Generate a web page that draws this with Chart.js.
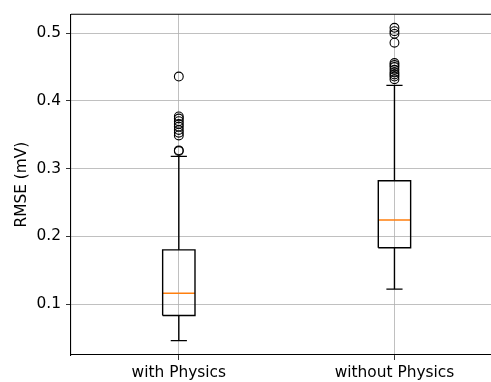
<!DOCTYPE html>
<html lang="en">
<head>
  <meta charset="UTF-8">
  <title>RMSE boxplot</title>
  <style>
    body { margin: 0; background: #fff; overflow: hidden; }
    #wrap { width: 491px; height: 382px; overflow: hidden; }
  </style>
</head>
<body>
  <div id="wrap"><canvas id="rmse" width="497" height="382"></canvas></div>

  <script src="https://cdn.jsdelivr.net/npm/chart.js"></script>
  <script>
    // box statistics
    const categories = ['with Physics', 'without Physics'];
    const q1 = [0.083, 0.183];
    const median = [0.116, 0.224];
    const q3 = [0.180, 0.282];
    const whiskerLow = [0.046, 0.122];
    const whiskerHigh = [0.318, 0.423];
    const outliersWith = [0.436, 0.377, 0.374, 0.370, 0.366, 0.362, 0.357, 0.353, 0.349, 0.327, 0.326];
    const outliersWithout = [0.508, 0.503, 0.499, 0.486, 0.456, 0.453, 0.450, 0.446, 0.442, 0.439, 0.436, 0.432];
    const yTicks = [0.1, 0.2, 0.3, 0.4, 0.5];

    const boxHalf = 0.075; // matplotlib default width 0.15
    const capHalf = 0.0375;

    const boxPts = [], medPts = [], whiskPts = [];
    categories.forEach((c, i) => {
      const x = i + 1;
      boxPts.push({x: x - boxHalf, y: q1[i]}, {x: x + boxHalf, y: q1[i]},
                  {x: x + boxHalf, y: q3[i]}, {x: x - boxHalf, y: q3[i]},
                  {x: x - boxHalf, y: q1[i]}, {x: x, y: null});
      medPts.push({x: x - boxHalf, y: median[i]}, {x: x + boxHalf, y: median[i]}, {x: x, y: null});
      whiskPts.push({x: x, y: q3[i]}, {x: x, y: whiskerHigh[i]}, {x: x, y: null},
                    {x: x - capHalf, y: whiskerHigh[i]}, {x: x + capHalf, y: whiskerHigh[i]}, {x: x, y: null},
                    {x: x, y: q1[i]}, {x: x, y: whiskerLow[i]}, {x: x, y: null},
                    {x: x - capHalf, y: whiskerLow[i]}, {x: x + capHalf, y: whiskerLow[i]}, {x: x, y: null});
    });
    const fliers = outliersWith.map(v => ({x: 1, y: v}))
      .concat(outliersWithout.map(v => ({x: 2, y: v})));

    const lineDs = (data, color) => ({
      type: 'line', data: data, borderColor: color, borderWidth: 1.4,
      pointRadius: 0, spanGaps: false, fill: false, tension: 0
    });

    const topSpine = {
      id: 'topSpine',
      afterDraw(chart) {
        const a = chart.chartArea, c = chart.ctx;
        c.save();
        c.strokeStyle = '#000';
        c.lineWidth = 1.1;
        c.beginPath();
        c.moveTo(a.left, a.top);
        c.lineTo(a.right, a.top);
        c.stroke();
        c.restore();
      }
    };

    const font = {family: 'DejaVu Sans', size: 15.4};

    new Chart(document.getElementById('rmse'), {
      type: 'scatter',
      data: {
        datasets: [
          lineDs(boxPts, '#000'),
          lineDs(whiskPts, '#000'),
          lineDs(medPts, '#ff7f0e'),
          {
            type: 'scatter', data: fliers, pointStyle: 'circle', pointRadius: 4.4,
            borderColor: '#000', borderWidth: 1.1, backgroundColor: 'rgba(0,0,0,0)'
          }
        ]
      },
      options: {
        responsive: false,
        animation: false,
        layout: {padding: {top: 14, right: 0, left: 0, bottom: 0}},
        plugins: {legend: {display: false}, tooltip: {enabled: false}},
        scales: {
          x: {
            type: 'linear', min: 0.5, max: 2.45,
            afterBuildTicks: s => { s.ticks = categories.map((c, i) => ({value: i + 1})); },
            afterFit: s => { s.height = 27; },
            ticks: {
              font: font, color: '#000', padding: 4, maxRotation: 0,
              callback: v => categories[v - 1]
            },
            grid: {color: '#b0b0b0', lineWidth: 0.8, tickLength: 5, tickColor: '#000'},
            border: {color: '#000', width: 1.1}
          },
          y: {
            min: 0.0247, max: 0.528,
            afterBuildTicks: s => { s.ticks = yTicks.map(v => ({value: v})); },
            afterFit: s => { s.width = 71; },
            ticks: {font: font, color: '#000', padding: 5, callback: v => v.toFixed(1)},
            title: {display: true, text: 'RMSE (mV)', font: font, color: '#000', padding: {top: 13, bottom: 0}},
            grid: {color: '#b0b0b0', lineWidth: 0.8, tickLength: 5, tickColor: '#000'},
            border: {color: '#000', width: 1.1}
          }
        }
      },
      plugins: [topSpine]
    });
  </script>
</body>
</html>
